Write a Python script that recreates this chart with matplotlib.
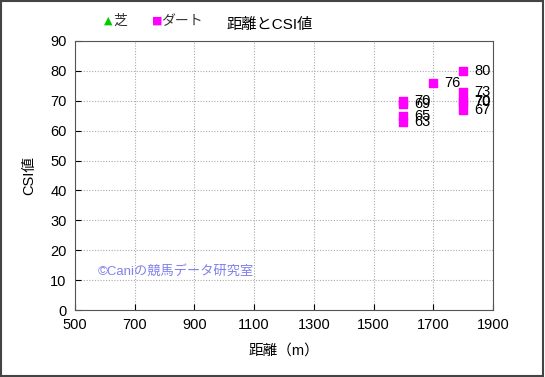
import matplotlib.pyplot as plt
from matplotlib.patches import Rectangle

plt.rcParams['font.family'] = ['Liberation Sans', 'Noto Sans CJK JP']

# dirt races: distance (m) and CSI value
dirt_dist = [1600, 1600, 1600, 1600, 1700, 1800, 1800, 1800, 1800, 1800]
dirt_csi = [70, 69, 65, 63, 76, 80, 73, 70, 69.6, 67]
dirt_labels = ['70', '69', '65', '63', '76', '80', '73', '70', '70', '67']

# turf races (none in this chart)
turf_dist = []
turf_csi = []

xticks = [500, 700, 900, 1100, 1300, 1500, 1700, 1900]
yticks = [0, 10, 20, 30, 40, 50, 60, 70, 80, 90]

fig = plt.figure(figsize=(5.45, 3.77), dpi=100, facecolor='white')
ax = fig.add_axes([75 / 545, 67 / 377, 418 / 545, 269 / 377])

ax.scatter(turf_dist, turf_csi, marker='^', color='#00cc00', s=30)
ax.scatter(dirt_dist, dirt_csi, marker='s', color='#ff00ff', s=28, zorder=3)
for x, y, t in zip(dirt_dist, dirt_csi, dirt_labels):
    ax.annotate(t, (x, y), xytext=(8, 0), textcoords='offset points',
                va='center', ha='left', fontsize=10.5, color='black')

ax.set_xlim(500, 1900)
ax.set_ylim(0, 90)
ax.set_xticks(xticks)
ax.set_yticks(yticks)
ax.tick_params(direction='in', labelsize=10.5, length=4, pad=6)
ax.grid(True, color='#aaaaaa', linestyle=(0, (1, 1.5)), linewidth=0.8)
ax.set_axisbelow(True)
for s in ax.spines.values():
    s.set_color('#555555')

ax.set_xlabel('距離（m）', fontsize=10.5, labelpad=8)
ax.set_ylabel('CSI値', fontsize=10.5, labelpad=10)

fig.text(0.495, 0.934, '距離とCSI値', ha='center', va='center', fontsize=11)
fig.text(0.19, 0.945, '▲', color='#00cc00', ha='left', va='center', fontsize=8,
         family=['DejaVu Sans'])
fig.text(0.208, 0.945, '芝', color='#333333', ha='left', va='center', fontsize=10)
fig.text(0.278, 0.945, '■', color='#ff00ff', ha='left', va='center', fontsize=8,
         family=['DejaVu Sans'])
fig.text(0.295, 0.945, 'ダート', color='#333333', ha='left', va='center', fontsize=10)

ax.text(0.055, 0.145, '©Caniの競馬データ研究室', transform=ax.transAxes,
        color='#8080ee', fontsize=9.5, ha='left', va='center')

fig.patches.append(Rectangle((0.002, 0.003), 0.995, 0.994, transform=fig.transFigure,
                             fill=False, edgecolor='#444444', linewidth=1.5))

plt.savefig('out.png', dpi=100)
